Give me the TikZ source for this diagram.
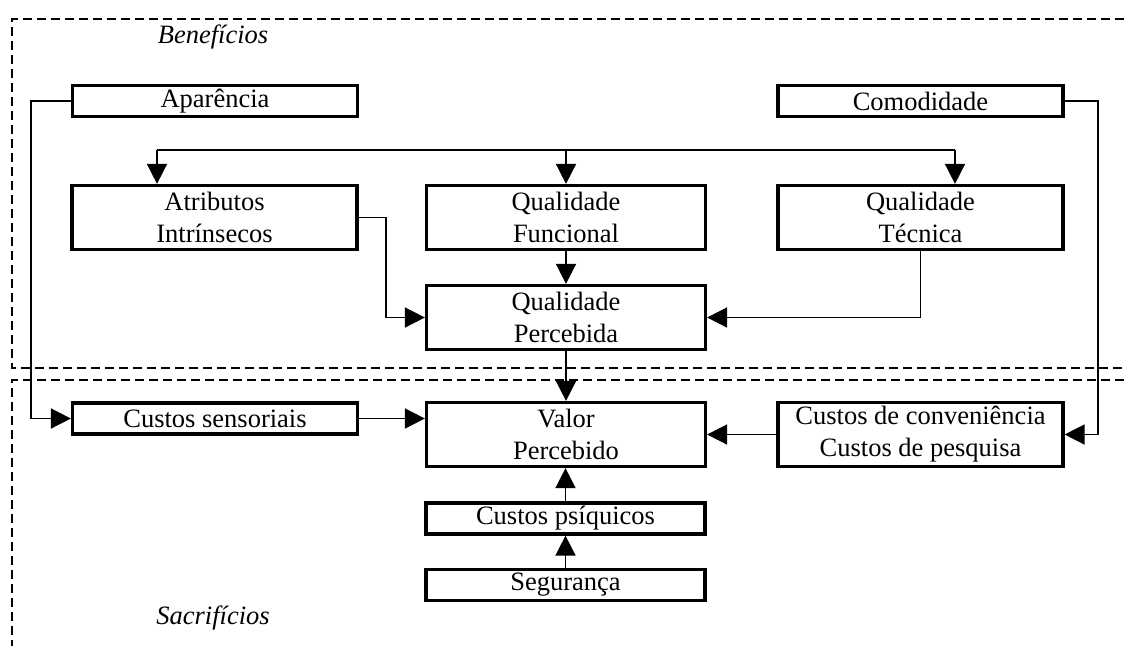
\documentclass[tikz,border=0pt]{standalone}
\usepackage{fontspec}
\setmainfont{Liberation Serif}
\usetikzlibrary{arrows.meta,calc}
\begin{document}
\begin{tikzpicture}[x=1pt,y=-1pt,
  box/.style={draw,line width=3.2pt,inner sep=0pt,align=center,
    font=\fontsize{26.5}{32}\selectfont},
  wide/.style={minimum width=285pt},
  narrow/.style={minimum width=279pt},
  onel/.style={minimum height=31pt},
  twol/.style={minimum height=64pt},
  conn/.style={line width=1.6pt,-{Triangle[length=20pt,width=20pt]}},
  plain/.style={line width=1.6pt},
  region/.style={line width=1.5pt,dash pattern=on 9pt off 5pt},
  lbl/.style={font=\fontsize{26.5}{32}\selectfont\itshape,inner sep=0pt}]
\useasboundingbox (0,0) rectangle (1124,646);
% regions
\draw[region] (1124,19) -- (12,19) -- (12,368) -- (1124,368);
\draw[region] (1124,380) -- (12,380) -- (12,646);
\node[lbl] (ben) at (213,37) {Benefícios};
\node[lbl] (sac) at (213,618) {Sacrifícios};
% boxes
\node[box,wide,onel] (apar) at (215,101) {Aparência};
\node[box,wide,onel] (comod) at (920.5,101) {Comodidade};
\node[box,wide,twol] (atrib) at (214.5,217.5) {Atributos\\Intrínsecos};
\node[box,narrow,twol] (qfunc) at (566,217.5) {Qualidade\\Funcional};
\node[box,wide,twol] (qtec) at (920.5,217.5) {Qualidade\\Técnica};
\node[box,narrow,twol] (qperc) at (566,317.5) {Qualidade\\Percebida};
\node[box,wide,onel] (csens) at (215,418.5) {Custos sensoriais};
\node[box,narrow,twol] (valor) at (566,434.5) {Valor\\Percebido};
\node[box,wide,twol] (cconv) at (920.5,434.5) {Custos de conveniência\\Custos de pesquisa};
\node[box,narrow,onel] (cpsi) at (565.5,518.5) {Custos psíquicos};
\node[box,narrow,onel] (seg) at (565.5,585) {Segurança};
% bus
\coordinate (busL) at (157,150);
\coordinate (busR) at (955,150);
\coordinate (lrail) at (31,101);
\coordinate (rrail) at (1098,101);
\coordinate (arail) at (386,217.5);
\draw[plain] ($(apar.south)+(4,0)$) -- ($(apar.south)+(4,0)$ |- busL);
\draw[plain] ($(comod.south)+(3,0)$) -- ($(comod.south)+(3,0)$ |- busL);
\draw[plain] (busL) -- (busR);
\draw[conn] (busL) -- (busL |- atrib.north);
\draw[conn] (qfunc.north |- busL) -- (qfunc.north);
\draw[conn] (busR) -- (busR |- qtec.north);
% side rails
\draw[conn] (apar.west) -- (lrail) |- (csens.west);
\draw[conn] (comod.east) -- (rrail) |- (cconv.east);
\draw[conn] (atrib.east) -- (arail) |- (qperc.west);
\draw[conn] (qtec.south) |- (qperc.east);
% center column
\draw[conn] (qfunc.south) -- (qperc.north);
\draw[conn] (qperc.south) -- (valor.north);
\draw[conn] (csens.east) -- (csens.east -| valor.west);
\draw[conn] (cconv.west) -- (cconv.west -| valor.east);
\draw[conn] (cpsi.north) -- (cpsi.north |- valor.south);
\draw[conn] (seg.north) -- (cpsi.south);
\end{tikzpicture}
\end{document}
